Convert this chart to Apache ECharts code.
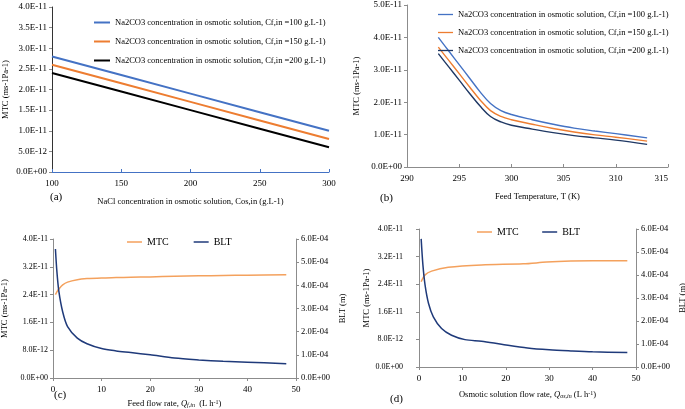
<!DOCTYPE html>
<html><head><meta charset="utf-8">
<script src="https://cdn.jsdelivr.net/npm/echarts@6/dist/echarts.min.js"></script>
<style>html,body{margin:0;padding:0;background:#fff}#c{width:685px;height:409px}</style>
</head><body><div id="c"></div>
<script>
// Panel (a)
const aX = [100, 150, 200, 250, 300];
const aBlue = [2.8e-11, 2.35e-11, 1.9e-11, 1.45e-11, 1.0e-11];
const aOrange = [2.6e-11, 2.15e-11, 1.7e-11, 1.25e-11, 0.8e-11];
const aBlack = [2.4e-11, 1.95e-11, 1.5e-11, 1.05e-11, 0.6e-11];
// Panel (b)
const bT = [293, 294, 295, 296, 297, 298, 299, 300, 302, 304, 306, 308, 310, 313];
const bBlue = [4.0e-11, 3.58e-11, 3.16e-11, 2.74e-11, 2.32e-11, 1.96e-11, 1.74e-11, 1.62e-11, 1.46e-11, 1.32e-11, 1.2e-11, 1.11e-11, 1.03e-11, 0.90e-11];
const bOrange = [3.7e-11, 3.29e-11, 2.88e-11, 2.47e-11, 2.07e-11, 1.74e-11, 1.56e-11, 1.46e-11, 1.32e-11, 1.19e-11, 1.08e-11, 0.99e-11, 0.92e-11, 0.80e-11];
const bNavy = [3.5e-11, 3.09e-11, 2.68e-11, 2.27e-11, 1.88e-11, 1.56e-11, 1.39e-11, 1.29e-11, 1.17e-11, 1.06e-11, 0.97e-11, 0.90e-11, 0.83e-11, 0.70e-11];
const legendNames = [
  'Na2CO3 concentration in osmotic solution, Cf,in =100 g.L-1)',
  'Na2CO3 concentration in osmotic solution, Cf,in =150 g.L-1)',
  'Na2CO3 concentration in osmotic solution, Cf,in =200 g.L-1)'
];
// Panel (c)
const cQ = [0.5, 0.8, 1.2, 2, 3, 5, 7, 10, 13, 16, 20, 25, 30, 35, 40, 48];
const cMTC = [2.40e-11, 2.48e-11, 2.56e-11, 2.68e-11, 2.76e-11, 2.83e-11, 2.86e-11, 2.88e-11, 2.89e-11, 2.90e-11, 2.91e-11, 2.93e-11, 2.94e-11, 2.95e-11, 2.96e-11, 2.97e-11];
const cBLT = [5.57e-4, 4.6e-4, 3.75e-4, 2.85e-4, 2.22e-4, 1.72e-4, 1.48e-4, 1.27e-4, 1.17e-4, 1.10e-4, 1.0e-4, 0.86e-4, 0.78e-4, 0.72e-4, 0.68e-4, 0.62e-4];
// Panel (d)
const dQblt = [0.5, 0.9, 1.4, 2.2, 3.3, 5.2, 7.5, 10.6, 14.4, 19, 25, 30, 35, 40, 48];
const dBLT = [5.57e-4, 4.44e-4, 3.56e-4, 2.76e-4, 2.18e-4, 1.67e-4, 1.38e-4, 1.19e-4, 1.12e-4, 0.99e-4, 0.83e-4, 0.75e-4, 0.70e-4, 0.66e-4, 0.63e-4];
const dQmtc = [0.5, 1.4, 2.9, 6.75, 14.4, 24, 29.4, 35, 40, 48];
const dMTC = [2.47e-11, 2.67e-11, 2.78e-11, 2.89e-11, 2.96e-11, 2.99e-11, 3.04e-11, 3.07e-11, 3.08e-11, 3.08e-11];

const FONT = 'Liberation Serif';
function sci(v, d) {
  if (Math.abs(v) < 1e-30) return (0).toFixed(d) + 'E+00';
  let e = Math.floor(Math.log10(Math.abs(v)) + 1e-9);
  let ms = (v / Math.pow(10, e)).toFixed(d);
  if (parseFloat(ms) >= 10) { e += 1; ms = (v / Math.pow(10, e)).toFixed(d); }
  const ae = Math.abs(e);
  return ms + 'E' + (e < 0 ? '-' : '+') + (ae < 10 ? '0' + ae : '' + ae);
}
const pairs = (xs, ys) => xs.map((x, i) => [x, ys[i]]);
const txt = {fontFamily: FONT, fontSize: 9, color: '#000'};
const txtS = {fontFamily: FONT, fontSize: 8.5, color: '#000'};

const axisGray = '#8c8c8c';
function yAxisDef(gi, opts, fs) {
  return Object.assign({
    type: 'value', gridIndex: gi, nameLocation: 'middle', nameRotate: 90,
    nameTextStyle: txtS, splitLine: {show: false},
    axisLine: {show: true, lineStyle: {color: axisGray}},
    axisTick: {show: true, length: 3, lineStyle: {color: axisGray}},
    axisLabel: Object.assign({}, txt, {fontSize: fs || 9, margin: 5, showMaxLabel: true, formatter: v => sci(v, 1)})
  }, opts);
}
function xAxisDef(gi, opts) {
  return Object.assign({
    type: 'value', gridIndex: gi, nameLocation: 'middle', nameTextStyle: txtS,
    splitLine: {show: false},
    axisLine: {show: true, lineStyle: {color: axisGray}},
    axisTick: {show: true, length: 3, lineStyle: {color: axisGray}},
    axisLabel: Object.assign({}, txt, {margin: 7, showMaxLabel: true, showMinLabel: true})
  }, opts);
}

const richX = {
  i: {fontFamily: FONT, fontSize: 8.5, fontStyle: 'italic', color: '#000'},
  s: {fontFamily: FONT, fontSize: 6, fontStyle: 'italic', color: '#000', verticalAlign: 'bottom', padding: [2, 0, 0, 0]},
  u: {fontFamily: FONT, fontSize: 6, color: '#000', verticalAlign: 'top', padding: [0, 0, 2, 0]}
};

const option = {
  animation: false,
  backgroundColor: '#fff',
  grid: [
    {left: 52, top: 7, width: 277, height: 165, outerBoundsMode: 'none'},
    {left: 407, top: 5, width: 261, height: 162, outerBoundsMode: 'none'},
    {left: 53, top: 239, width: 243, height: 139, outerBoundsMode: 'none'},
    {left: 419, top: 229, width: 217, height: 138, outerBoundsMode: 'none'}
  ],
  xAxis: [
    xAxisDef(0, {min: 100, max: 300, interval: 50, name: 'NaCl concentration in osmotic solution, Cos,in (g.L-1)', nameGap: 25,
      axisLine: {show: true, lineStyle: {color: '#4472C4'}}, axisTick: {show: true, inside: true, length: 3, lineStyle: {color: '#4472C4'}}}),
    xAxisDef(1, {min: 290, max: 315, interval: 5, name: 'Feed Temperature, T (K)', nameGap: 25,
      axisTick: {show: true, inside: true, length: 3, lineStyle: {color: axisGray}},
      axisLabel: Object.assign({}, txt, {margin: 7, showMaxLabel: true, showMinLabel: true, alignMaxLabel: 'right', hideOverlap: false})}),
    xAxisDef(2, {min: 0, max: 50, interval: 10, nameGap: 21,
      name: 'Feed flow rate, {i|Q}{s|f,in}  (L h{u|-1})', nameTextStyle: Object.assign({}, txtS, {rich: richX})}),
    xAxisDef(3, {min: 0, max: 50, interval: 10, nameGap: 23,
      name: 'Osmotic solution flow rate, {i|Q}{s|os,in} (L h{u|-1})', nameTextStyle: Object.assign({}, txtS, {rich: richX})})
  ],
  yAxis: [
    yAxisDef(0, {min: 0, max: 4e-11, interval: 5e-12, name: 'MTC (ms-1Pa-1)', nameGap: 42,
      axisLine: {show: true, lineStyle: {color: '#333'}}}),
    yAxisDef(1, {min: 0, max: 5e-11, interval: 1e-11, name: 'MTC (ms-1Pa-1)', nameGap: 46}),
    yAxisDef(2, {min: 0, max: 4e-11, interval: 8e-12, name: 'MTC (ms-1Pa-1)', nameGap: 44}, 8),
    yAxisDef(2, {min: 0, max: 6e-4, interval: 1e-4, position: 'right', name: 'BLT (m)', nameGap: 42, nameRotate: 90}, 8.5),
    yAxisDef(3, {min: 0, max: 4e-11, interval: 8e-12, name: 'MTC (ms-1Pa-1)', nameGap: 42,
      axisLabel: Object.assign({}, txt, {fontSize: 8, margin: 16, showMaxLabel: true, formatter: v => sci(v, 1)})}),
    yAxisDef(3, {min: 0, max: 6e-4, interval: 1e-4, position: 'right', name: 'BLT (m)', nameGap: 42, nameRotate: 90}, 8.5)
  ],
  legend: [
    {orient: 'vertical', left: 94, top: 18, itemWidth: 16, itemHeight: 10, itemGap: 10, textStyle: txtS,
      data: legendNames.map(n => ({name: n})), selectedMode: false,
      icon: 'path://M0,0 L16,0 L16,2 L0,2 Z', padding: 0},
    {orient: 'vertical', left: 438, top: 10, itemWidth: 15, itemHeight: 10, itemGap: 9, textStyle: txtS,
      data: legendNames.map(n => ({name: n + ' '})), selectedMode: false,
      icon: 'path://M0,0 L16,0 L16,1.4 L0,1.4 Z', padding: 0},
    {orient: 'horizontal', left: 127, top: 237, itemWidth: 15, itemHeight: 10, itemGap: 25, textStyle: Object.assign({}, txt, {fontSize: 10}),
      data: ['MTC', 'BLT'], selectedMode: false, icon: 'path://M0,0 L16,0 L16,1.6 L0,1.6 Z', padding: 0},
    {orient: 'horizontal', left: 477, top: 227, itemWidth: 15, itemHeight: 10, itemGap: 21, textStyle: Object.assign({}, txt, {fontSize: 10}),
      data: ['MTC ', 'BLT '], selectedMode: false, icon: 'path://M0,0 L16,0 L16,1.6 L0,1.6 Z', padding: 0}
  ],
  series: [
    {type: 'line', name: legendNames[0], xAxisIndex: 0, yAxisIndex: 0, data: pairs(aX, aBlue), symbol: 'none', color: '#4472C4', lineStyle: {width: 2}},
    {type: 'line', name: legendNames[1], xAxisIndex: 0, yAxisIndex: 0, data: pairs(aX, aOrange), symbol: 'none', color: '#ED7D31', lineStyle: {width: 2}},
    {type: 'line', name: legendNames[2], xAxisIndex: 0, yAxisIndex: 0, data: pairs(aX, aBlack), symbol: 'none', color: '#000000', lineStyle: {width: 2}},
    {type: 'line', name: legendNames[0] + ' ', xAxisIndex: 1, yAxisIndex: 1, data: pairs(bT, bBlue), symbol: 'none', smooth: 0.4, color: '#4472C4', lineStyle: {width: 1.4}},
    {type: 'line', name: legendNames[1] + ' ', xAxisIndex: 1, yAxisIndex: 1, data: pairs(bT, bOrange), symbol: 'none', smooth: 0.4, color: '#ED7D31', lineStyle: {width: 1.4}},
    {type: 'line', name: legendNames[2] + ' ', xAxisIndex: 1, yAxisIndex: 1, data: pairs(bT, bNavy), symbol: 'none', smooth: 0.4, color: '#1F3864', lineStyle: {width: 1.4}},
    {type: 'line', name: 'MTC', xAxisIndex: 2, yAxisIndex: 2, data: pairs(cQ, cMTC), symbol: 'none', smooth: 0.3, color: '#F4A15D', lineStyle: {width: 1.5}},
    {type: 'line', name: 'BLT', xAxisIndex: 2, yAxisIndex: 3, data: pairs(cQ, cBLT), symbol: 'none', smooth: 0.3, color: '#1F3A7A', lineStyle: {width: 1.5}},
    {type: 'line', name: 'MTC ', xAxisIndex: 3, yAxisIndex: 4, data: pairs(dQmtc, dMTC), symbol: 'none', smooth: 0.3, color: '#F4A15D', lineStyle: {width: 1.5}},
    {type: 'line', name: 'BLT ', xAxisIndex: 3, yAxisIndex: 5, data: pairs(dQblt, dBLT), symbol: 'none', smooth: 0.3, color: '#1F3A7A', lineStyle: {width: 1.5}}
  ],
  graphic: [
    {type: 'text', left: 50, top: 192, style: {text: '(a)', font: '11px "Liberation Serif"', fill: '#000'}},
    {type: 'text', left: 380, top: 193, style: {text: '(b)', font: '11px "Liberation Serif"', fill: '#000'}},
    {type: 'text', left: 54, top: 390, style: {text: '(c)', font: '11px "Liberation Serif"', fill: '#000'}},
    {type: 'text', left: 390, top: 394, style: {text: '(d)', font: '11px "Liberation Serif"', fill: '#000'}}
  ]
};
const chart = echarts.init(document.getElementById('c'), null, {renderer: 'canvas'});
chart.setOption(option);
</script></body></html>
